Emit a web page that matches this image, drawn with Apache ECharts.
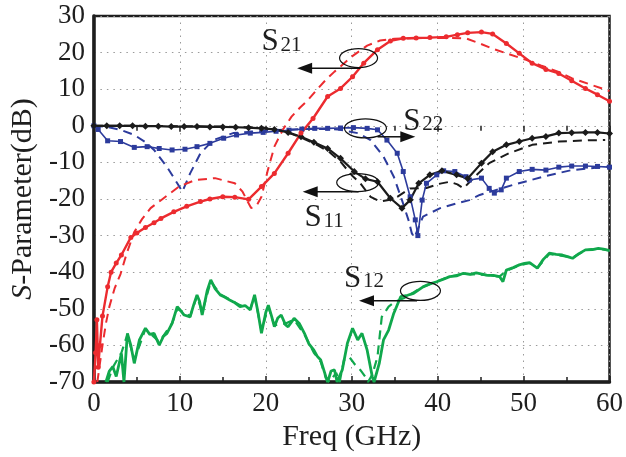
<!DOCTYPE html>
<html>
<head>
<meta charset="utf-8">
<script src="https://cdn.jsdelivr.net/npm/echarts@6/dist/echarts.min.js"></script>
<style>
  html, body { margin: 0; padding: 0; background: #fff; }
  #chart { width: 626px; height: 457px; }
</style>
</head>
<body>
<div id="chart"></div>
<script>
// ---- data (GHz, dB) ----
var s21Meas = [[0,-70],[0.2,-62],[0.35,-53],[0.5,-66],[0.7,-60],[1,-52],[1.6,-44],[2,-40],[2.6,-37.5],[3.2,-35.3],[4.3,-30.5],[5,-29.3],[6,-27.8],[7,-26.5],[7.8,-25.3],[9.3,-23.5],[10.8,-22],[12.4,-20.7],[13.5,-20],[15,-19.4],[16.4,-19.5],[18,-20.1],[19.5,-16.6],[21,-13],[22.6,-7.5],[24.1,-2],[25.5,2],[27.2,8],[28.7,10.2],[30.1,13.4],[31.4,17.1],[33,20.8],[34.5,23.2],[36,23.9],[37.5,24],[39.1,24.1],[41,24.3],[42.3,24.9],[43.5,25.4],[45.1,25.6],[46.4,25.1],[48,22.5],[49.5,19.8],[51,17.1],[52.6,15.4],[54.1,14.3],[55.6,12.3],[57.2,10.2],[58.6,8.5],[60,6.7]];
var s21Sim = [[0.4,-70],[0.7,-65],[1,-60],[1.4,-54],[1.8,-49.4],[2.4,-44.5],[3.1,-40.5],[3.8,-35],[4.7,-29],[5.6,-25.5],[6.6,-22.5],[8,-20],[9.9,-16.6],[11.8,-14.8],[14.1,-14.3],[16.4,-15.7],[17.3,-18],[18.3,-22.5],[19,-21.5],[19.5,-19.4],[20.2,-12.5],[21,-5.7],[22,-1],[23,2.5],[24,5],[24.9,7],[26,10],[27,12.6],[28,14.8],[28.7,16.2],[30,18.9],[31.8,21.9],[33.3,23.3],[35,23.8],[37,23.9],[39,24],[41,24],[43.3,23.9],[44.9,22.5],[46.5,21],[48,19.8],[50.3,18],[52,16.5],[54,14.8],[55.6,13],[57.5,11.5],[60,9.5]];
var s11Meas = [[0,0],[1.5,0],[3,0],[4.5,0],[6,-0.1],[7.5,-0.1],[9,-0.2],[10.5,-0.2],[12,-0.2],[13.5,-0.3],[15,-0.3],[16.5,-0.4],[18,-0.5],[19.5,-0.7],[21,-1],[22.6,-1.8],[24.1,-3],[25.6,-4.5],[27.2,-6.2],[28.7,-8.9],[30.3,-12.5],[31.6,-14.5],[33,-15.3],[34.5,-19.8],[35.85,-22.5],[36.8,-20.3],[37.8,-15.7],[39.1,-13.4],[40.5,-12.3],[42.2,-13.4],[43.5,-14.4],[45.1,-10.2],[46.4,-7.1],[48,-5.2],[49.5,-4.3],[51,-3.4],[52.6,-2.9],[54.1,-2],[55.6,-1.9],[57.2,-1.8],[58.6,-1.8],[60,-2.1]];
var s11Sim = [[0,0],[5,0],[10,-0.1],[15,-0.2],[18,-0.4],[20,-0.6],[21.5,-1.2],[23,-2.2],[24.5,-3.6],[26,-5.3],[27.3,-7],[28.7,-9.8],[30,-13.5],[31,-15.7],[32.2,-19.4],[33.3,-20.7],[34.3,-20.3],[35.3,-19.4],[36.8,-17.1],[38.7,-17],[40.3,-15.8],[41.4,-15.3],[42.3,-16],[43,-17.1],[44.5,-13.5],[46,-10.2],[48.3,-7.5],[51,-5.2],[54.1,-4.3],[57,-4],[59.5,-3.9]];
var s22Meas = [[0,0],[0.5,-1],[1.6,-4.1],[3.1,-4.3],[4.7,-5.9],[6.2,-5.7],[7.6,-6.2],[9.1,-6.6],[10.6,-6.4],[12,-5.7],[13.5,-4.8],[15.1,-3.4],[16.6,-2.5],[18.2,-2],[19.7,-1.8],[21.2,-1.5],[22.7,-1.2],[24.2,-0.9],[25.7,-0.7],[27.2,-0.7],[28.7,-0.6],[30.2,-0.5],[31.8,-0.7],[33,-1.1],[34.1,-3.9],[35.3,-7.5],[36,-12.5],[36.8,-19.4],[37.4,-25.7],[37.7,-30],[38.2,-20.3],[38.7,-15.7],[39.9,-13.4],[40.7,-12.3],[42,-12.5],[43.3,-13.9],[43.7,-14.8],[45.1,-14.3],[46,-17.1],[46.6,-18.4],[47.4,-17.5],[48,-14.3],[49.5,-12.5],[51,-11.9],[52.6,-12.1],[54.1,-11.3],[55.6,-11],[57.2,-11],[58.6,-11.1],[60,-11.3]];
var s22Sim = [[0,0],[1.5,-0.3],[3.1,-1.1],[4.7,-2.5],[6,-4.5],[7,-6.6],[8.5,-11.2],[9.7,-15.7],[10.3,-18],[11.2,-13],[12.4,-7.5],[13.9,-3.9],[16.2,-2],[18.5,-1.6],[21,-1.2],[24,-0.9],[27,-0.9],[28.4,-1],[30.7,-2],[32.2,-3.9],[33.7,-8.4],[34.9,-13.9],[35.85,-20.3],[36.6,-25.7],[37,-29.4],[37.3,-30.5],[38.3,-24.8],[40.3,-22.5],[42.2,-21.2],[43.7,-20.3],[44.9,-18.9],[48.7,-16.2],[52.6,-13.7],[55.6,-12.1],[59.5,-11.2],[60,-11.1]];
var s12Meas = [[1.4,-70],[1.8,-67],[2.2,-65.8],[2.6,-68.5],[3.2,-62.2],[3.5,-70],[3.9,-56.7],[4.3,-60],[4.7,-64.9],[5.3,-58.5],[6,-55.3],[6.5,-57],[7,-56.7],[7.6,-59.9],[8.1,-57.5],[8.5,-56.7],[9.1,-54],[9.7,-49.4],[10.1,-50.5],[10.5,-51.7],[11.2,-52.2],[11.6,-49],[12,-46.2],[12.3,-48],[12.6,-51.7],[13.2,-44.9],[13.6,-42.1],[14.1,-44.5],[14.7,-46.2],[15.2,-46.8],[15.8,-47.6],[16.3,-48.2],[17,-49.4],[17.6,-49.1],[18.2,-50.3],[18.7,-46.2],[19.1,-51],[19.5,-56.7],[20,-51],[20.3,-49],[20.7,-52.2],[21,-54.9],[21.4,-52.5],[21.8,-51.7],[22.3,-54.4],[22.6,-54.9],[23.3,-52.6],[23.9,-54],[24.5,-56.7],[25,-59.5],[25.6,-61.3],[26,-63],[26.4,-64],[27,-68.6],[27.2,-70],[27.6,-67],[28,-66.7],[28.3,-70],[28.9,-66.7],[29.5,-59.4],[30.1,-55.3],[30.7,-58.5],[31.2,-56.7],[31.8,-61.3],[32.4,-68.6],[32.6,-70],[33.2,-65],[33.7,-58.5],[34.3,-55.8],[34.9,-51.2],[35.7,-46.7],[36.5,-46.3],[37.2,-45.8],[38.3,-44],[39.1,-43.2],[39.9,-42.6],[40.6,-42],[41.4,-41.2],[42.2,-41],[43,-40.3],[43.8,-40.6],[44.5,-40.2],[45.7,-40.8],[46.5,-40.9],[47.2,-41.2],[47.6,-42.6],[48,-39.4],[48.8,-38.7],[49.5,-38],[50.1,-37.6],[50.7,-37.4],[51.6,-38.9],[52.3,-36.5],[53,-34.8],[53.8,-35.1],[54.5,-35.3],[55.2,-35.8],[55.7,-36.2],[56.4,-35],[57.2,-33.9],[58,-33.8],[58.7,-33.5],[59.3,-33.7],[60,-34.1]];
var s12Sim = [[1.6,-70],[2.2,-66],[3.2,-62],[3.9,-57],[4.7,-64],[6,-55.5],[7.6,-59],[9.1,-54],[9.7,-50],[11.2,-52],[12,-46.5],[12.6,-51],[13.6,-42.5],[14.7,-46],[17,-49],[18.2,-50],[18.7,-46.5],[19.5,-56],[20.3,-49.5],[21,-54.5],[22.3,-54],[23.3,-53],[24.5,-57],[25.6,-62],[26.4,-64.5],[27,-69],[27.4,-70],[28.2,-67.5],[28.6,-70],[29.1,-64],[29.7,-63.1],[30.3,-65],[31,-66.7],[31.6,-68.6],[31.9,-70],[32.4,-68],[33,-63.1],[33.5,-52.2],[34.3,-49.4],[35.1,-48],[36.2,-47],[37.2,-45.5],[38.3,-44],[39.9,-42.5],[41.4,-41.2],[43,-40.4],[45.7,-40.8],[47.2,-41.2],[48,-39.6],[49.5,-38.2],[50.7,-37.5],[51.6,-38.8],[53,-35],[55.7,-36],[57.2,-34],[58.7,-33.6],[60,-34]];

// annotation callouts: label, subscript, ellipse centre, arrow tail/head (data coords)
var callouts = [
  { sub: '21', label: [19.5, 22.8], ellipse: [30.8, 18.5], rx: 19, ry: 9.5, arrow: [31.0, 23.65, 15.7] },
  { sub: '22', label: [36.0, 1.2], ellipse: [31.6, -0.7], rx: 21, ry: 9.5, arrow: [33.0, 37.4, -3.0] },
  { sub: '11', label: [24.5, -25.2], ellipse: [30.7, -15.5], rx: 21, ry: 9, arrow: [30.8, 24.3, -18.0] },
  { sub: '12', label: [29.1, -41.7], ellipse: [38.0, -45.1], rx: 20, ry: 9.5, arrow: [37.6, 30.85, -47.8] }
];

var FONT = '"Liberation Serif", "Times New Roman", serif';
var RED = '#ec2b2f', BLACK = '#1b1b1b', BLUE = '#2c3b9c', GREEN = '#10a84c';

var chart = echarts.init(document.getElementById('chart'));

function line(name, data, color, dashed, width, symbol, size) {
  return {
    name: name, type: 'line', data: data, clip: true,
    symbol: symbol || 'none', symbolSize: size || 5, showSymbol: !!symbol,
    itemStyle: { color: color },
    lineStyle: { color: color, width: width, type: dashed ? [9, 6] : 'solid' },
    z: dashed ? 2 : 3
  };
}

var axisText = { fontFamily: FONT, fontSize: 27, color: '#1e1e1e' };

chart.setOption({
  animation: false,
  backgroundColor: '#fff',
  grid: { left: 91, right: 15, top: 16, bottom: 75, show: true, borderColor: '#1e1e1e', borderWidth: 2.5 },
  xAxis: [{
    type: 'value', min: 0, max: 60, interval: 10,
    name: 'Freq (GHz)', nameLocation: 'middle', nameGap: 38,
    nameTextStyle: { fontFamily: FONT, fontSize: 30, color: '#1e1e1e' },
    axisLine: { onZero: false, lineStyle: { color: '#1e1e1e', width: 3.5 } },
    axisTick: { inside: true, length: 6, lineStyle: { color: '#1e1e1e', width: 1.5 } },
    minorTick: { show: true, splitNumber: 2, length: 5, lineStyle: { color: '#1e1e1e', width: 1.5 } },
    axisLabel: Object.assign({ margin: 8 }, axisText),
    splitLine: { show: true, lineStyle: { color: '#9a9a9a', width: 1, type: [1.5, 5] } }
  }, {
    type: 'value', min: 0, max: 60, interval: 10, position: 'top',
    axisLine: { show: false }, axisLabel: { show: false }, splitLine: { show: false },
    axisTick: { inside: true, length: 6, lineStyle: { color: '#1e1e1e', width: 1.5 } },
    minorTick: { show: true, splitNumber: 2, length: 5, lineStyle: { color: '#1e1e1e', width: 1.5 } }
  }],
  yAxis: {
    type: 'value', min: -70, max: 30, interval: 10,
    name: '{i|S}-Parameter(dB)', nameLocation: 'middle', nameGap: 54,
    nameTextStyle: {
      fontFamily: FONT, fontSize: 30, color: '#1e1e1e',
      rich: { i: { fontFamily: FONT, fontSize: 30, fontStyle: 'italic', color: '#1e1e1e' } }
    },
    axisLine: { onZero: false, lineStyle: { color: '#1e1e1e', width: 3.5 } },
    axisTick: { show: false },
    axisLabel: Object.assign({ margin: 9 }, axisText),
    splitLine: { show: true, lineStyle: { color: '#9a9a9a', width: 1, type: [1.5, 5] } }
  },
  series: [
    line('S12 sim', s12Sim, GREEN, true, 2.2),
    line('S12 meas', s12Meas, GREEN, false, 2.8),
    line('S22 sim', s22Sim, BLUE, true, 2),
    line('S22 meas', s22Meas, BLUE, false, 1.6, 'rect', 5),
    line('S11 sim', s11Sim, BLACK, true, 2),
    line('S11 meas', s11Meas, BLACK, false, 2.2, 'diamond', 7),
    line('S21 sim', s21Sim, RED, true, 2),
    line('S21 meas', s21Meas, RED, false, 2.4, 'circle', 5)
  ]
});

// callouts placed through the chart's own scales
function px(p) { return chart.convertToPixel({ gridIndex: 0 }, p); }
var g = [];
callouts.forEach(function (c) {
  var l = px(c.label), e = px(c.ellipse);
  var t = px([c.arrow[0], c.arrow[2]]), h = px([c.arrow[1], c.arrow[2]]);
  var dir = h[0] < t[0] ? 1 : -1;
  g.push({ type: 'ellipse', shape: { cx: e[0], cy: e[1], rx: c.rx, ry: c.ry }, style: { fill: 'none', stroke: '#111', lineWidth: 1.2 }, z: 100 });
  g.push({ type: 'line', shape: { x1: t[0], y1: t[1], x2: h[0] + dir * 10, y2: h[1] }, style: { stroke: '#111', lineWidth: 1.5 }, z: 100 });
  g.push({ type: 'polygon', shape: { points: [[h[0], h[1]], [h[0] + dir * 15, h[1] - 5.5], [h[0] + dir * 15, h[1] + 5.5]] }, style: { fill: '#111' }, z: 100 });
  g.push({ type: 'text', x: l[0], y: l[1], style: { text: 'S', fontFamily: FONT, fontSize: 31, fill: '#1e1e1e', verticalAlign: 'middle', align: 'left' }, z: 100 });
  g.push({ type: 'text', x: l[0] + 19, y: l[1] + 3, style: { text: c.sub, fontFamily: FONT, fontSize: 21, fill: '#1e1e1e', verticalAlign: 'middle', align: 'left' }, z: 100 });
});
chart.setOption({ graphic: g });
</script>
</body>
</html>
